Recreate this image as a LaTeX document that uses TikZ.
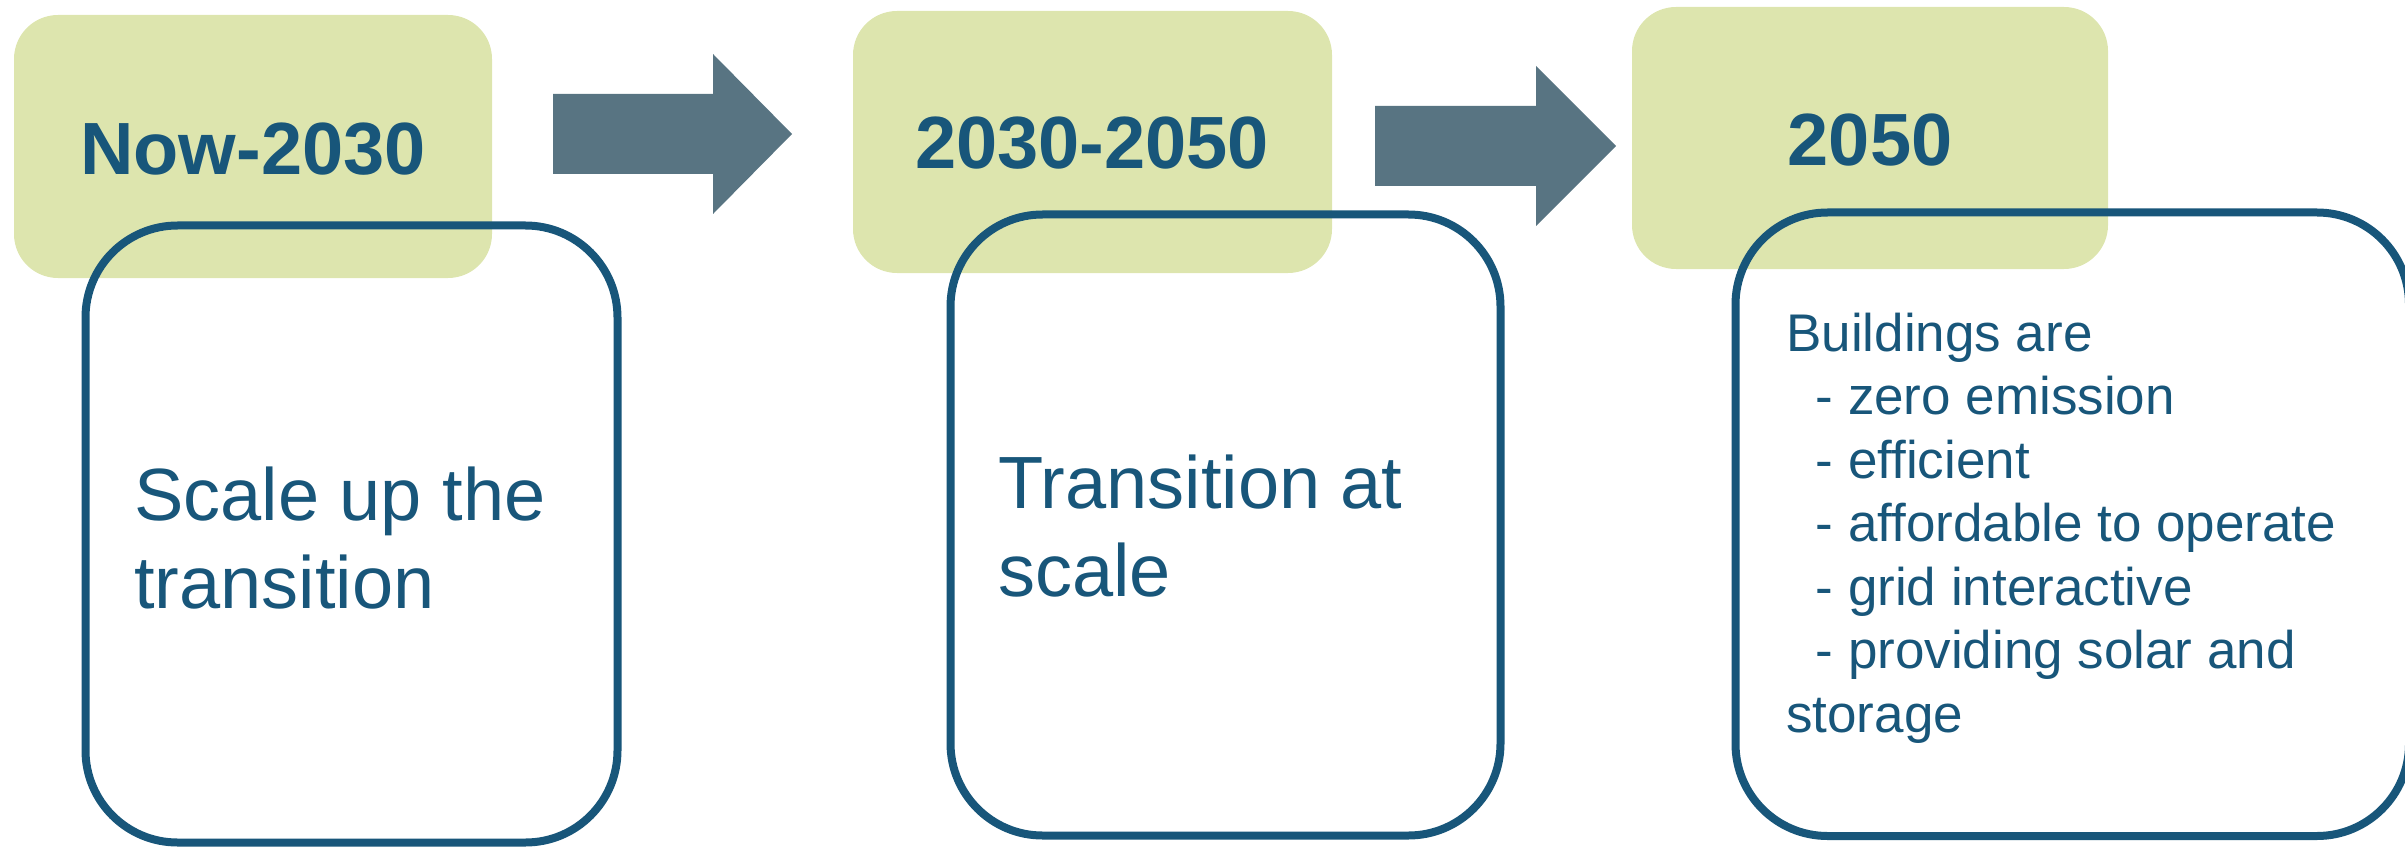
\documentclass[tikz,border=0pt]{standalone}
\usepackage{fontspec}
\setmainfont{Liberation Sans}
\definecolor{txtblue}{HTML}{18567A}
\definecolor{boxgreen}{HTML}{DDE5AE}
\definecolor{arrowgray}{HTML}{587482}
\begin{document}
\begin{tikzpicture}[x=1pt,y=-1pt,
  greenbox/.style={fill=boxgreen, rounded corners=44pt},
  outlinebox/.style={draw=txtblue, line width=8pt, rounded corners=92pt},
  blockarrow/.style={fill=arrowgray},
  heading/.style={anchor=base, inner sep=0pt, text=txtblue, font=\fontsize{74}{88}\selectfont\bfseries},
  bodytext/.style={anchor=base west, inner sep=0pt, text=txtblue, font=\fontsize{74}{88.5}\selectfont},
  listtext/.style={anchor=base west, inner sep=0pt, text=txtblue, font=\fontsize{53}{63.5}\selectfont}]
\useasboundingbox (0,0) rectangle (2405,850);
% green period boxes
\fill[greenbox] (14,15) rectangle (492,278);
\fill[greenbox] (853,11) rectangle (1332,273);
\fill[greenbox] (1632,7) rectangle (2108,269);
% block arrows
\fill[blockarrow] (553,94) -- (713,94) -- (713,54) -- (792,134) -- (713,214) -- (713,174) -- (553,174) -- cycle;
\fill[blockarrow] (1375,106) -- (1536,106) -- (1536,66) -- (1616,146) -- (1536,226) -- (1536,186) -- (1375,186) -- cycle;
% outline boxes
\draw[outlinebox] (85.5,225.5) rectangle (617.5,842.5);
\draw[outlinebox] (950.5,214.5) rectangle (1500.5,835.5);
\begin{scope}
\clip (0,0) rectangle (2405,850);
\draw[outlinebox] (1735.5,212.5) rectangle (2409,836);
\end{scope}
% headings
\node[heading] (h1) at (253,175) {Now-2030};
\node[heading] (h2) at (1092,169) {2030-2050};
\node[heading] (h3) at (1870,166) {2050};
% body texts
\node[bodytext] (t1) at (134,520) {\vtop{\hbox{Scale up the}\hbox{transition}}};
\node[bodytext] (t2) at (998,508) {\vtop{\hbox{Transition at}\hbox{scale}}};
\node[listtext] (t3) at (1786,351) {\vtop{\hbox{Buildings are}\hbox{\ \ - zero emission}\hbox{\ \ - efficient}\hbox{\ \ - affordable to operate}\hbox{\ \ - grid interactive}\hbox{\ \ - providing solar and}\hbox{storage}}};
\end{tikzpicture}
\end{document}
